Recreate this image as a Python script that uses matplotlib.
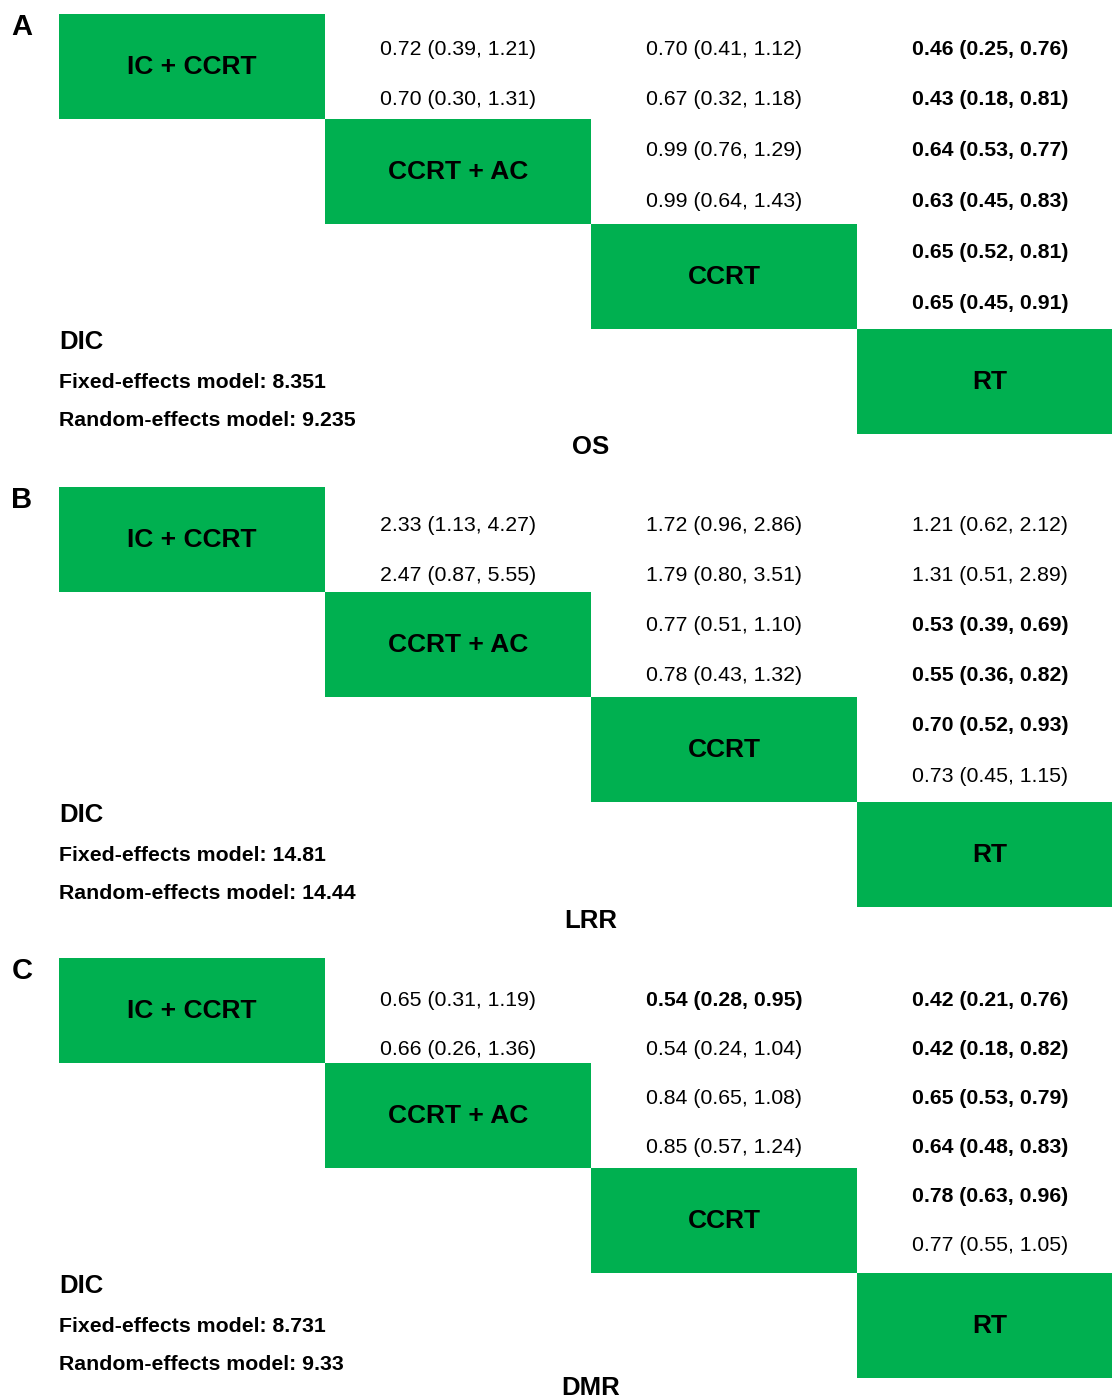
"""League table of pairwise hazard ratios (OS, LRR, DMR) for four treatment arms."""

import matplotlib.pyplot as plt
from matplotlib.patches import Rectangle

plt.rcParams["font.family"] = ["Liberation Sans", "DejaVu Sans"]

TREATMENTS = ["IC + CCRT", "CCRT + AC", "CCRT", "RT"]
OUTCOMES = ["OS", "LRR", "DMR"]
PANEL_LETTERS = ["A", "B", "C"]

# (row, col) pairs in the upper triangle, in reading order
PAIRS = [(0, 1), (0, 2), (0, 3), (1, 2), (1, 3), (2, 3)]

# each pair: fixed-effects line then random-effects line, as (estimate, low, high)
OS_FIXED = [(0.72, 0.39, 1.21), (0.70, 0.41, 1.12), (0.46, 0.25, 0.76),
            (0.99, 0.76, 1.29), (0.64, 0.53, 0.77), (0.65, 0.52, 0.81)]
OS_RANDOM = [(0.70, 0.30, 1.31), (0.67, 0.32, 1.18), (0.43, 0.18, 0.81),
             (0.99, 0.64, 1.43), (0.63, 0.45, 0.83), (0.65, 0.45, 0.91)]
OS_FIXED_BOLD = [False, False, True, False, True, True]
OS_RANDOM_BOLD = [False, False, True, False, True, True]

LRR_FIXED = [(2.33, 1.13, 4.27), (1.72, 0.96, 2.86), (1.21, 0.62, 2.12),
             (0.77, 0.51, 1.10), (0.53, 0.39, 0.69), (0.70, 0.52, 0.93)]
LRR_RANDOM = [(2.47, 0.87, 5.55), (1.79, 0.80, 3.51), (1.31, 0.51, 2.89),
              (0.78, 0.43, 1.32), (0.55, 0.36, 0.82), (0.73, 0.45, 1.15)]
LRR_FIXED_BOLD = [False, False, False, False, True, True]
LRR_RANDOM_BOLD = [False, False, False, False, True, False]

DMR_FIXED = [(0.65, 0.31, 1.19), (0.54, 0.28, 0.95), (0.42, 0.21, 0.76),
             (0.84, 0.65, 1.08), (0.65, 0.53, 0.79), (0.78, 0.63, 0.96)]
DMR_RANDOM = [(0.66, 0.26, 1.36), (0.54, 0.24, 1.04), (0.42, 0.18, 0.82),
              (0.85, 0.57, 1.24), (0.64, 0.48, 0.83), (0.77, 0.55, 1.05)]
DMR_FIXED_BOLD = [False, True, True, False, True, True]
DMR_RANDOM_BOLD = [False, False, True, False, True, False]

DIC_FIXED = ["8.351", "14.81", "8.731"]
DIC_RANDOM = ["9.235", "14.44", "9.33"]

FIXED = [OS_FIXED, LRR_FIXED, DMR_FIXED]
RANDOM = [OS_RANDOM, LRR_RANDOM, DMR_RANDOM]
FIXED_BOLD = [OS_FIXED_BOLD, LRR_FIXED_BOLD, DMR_FIXED_BOLD]
RANDOM_BOLD = [OS_RANDOM_BOLD, LRR_RANDOM_BOLD, DMR_RANDOM_BOLD]

GREEN = "#00B050"
W, H = 1112, 1399
DPI = 100

# layout in pixels
PANEL_TOP = [14, 487, 958]
ROW_START = [47, 523, 998]
ROW_STEP = [50.8, 50.2, 49.0]
TITLE_OFFSET = [431, 432, 428]
BOX_X0 = 59
BOX_W = 266
BOX_H = 105

FS_CELL = 15.3
FS_BOX = 19
FS_HEAD = 18.5
FS_LETTER = 21


def put(ax, x, y, text, fs, ha="center", weight="normal"):
    # y is the visual centre of capitals; convert to baseline
    base = y + 0.358 * fs * DPI / 72
    ax.text(x, base, text, fontsize=fs, ha=ha, va="baseline",
            fontweight=weight, color="black")


def fmt(cell):
    est, lo, hi = cell
    return f"{est:.2f} ({lo:.2f}, {hi:.2f})"


fig = plt.figure(figsize=(W / DPI, H / DPI), dpi=DPI)
ax = fig.add_axes([0, 0, 1, 1])
ax.set_xlim(0, W)
ax.set_ylim(H, 0)
ax.axis("off")

for p, outcome in enumerate(OUTCOMES):
    top = PANEL_TOP[p]
    put(ax, 22, top + 11, PANEL_LETTERS[p], FS_LETTER, weight="bold")

    for i, name in enumerate(TREATMENTS):
        x0 = BOX_X0 + i * BOX_W
        y0 = top + i * BOX_H
        ax.add_patch(Rectangle((x0, y0), BOX_W, BOX_H, facecolor=GREEN,
                               edgecolor="none", zorder=1))
        put(ax, x0 + BOX_W / 2, y0 + BOX_H / 2 - 2, name, FS_BOX, weight="bold")

    for k, (r, c) in enumerate(PAIRS):
        xc = BOX_X0 + c * BOX_W + BOX_W / 2
        lines = [(FIXED[p][k], FIXED_BOLD[p][k]), (RANDOM[p][k], RANDOM_BOLD[p][k])]
        for j, (cell, bold) in enumerate(lines):
            yc = ROW_START[p] + (2 * r + j) * ROW_STEP[p]
            put(ax, xc, yc, fmt(cell), FS_CELL,
                weight="bold" if bold else "normal")

    put(ax, BOX_X0, top + 326, "DIC", FS_HEAD, ha="left", weight="bold")
    put(ax, BOX_X0, top + 366, f"Fixed-effects model: {DIC_FIXED[p]}",
        FS_CELL, ha="left", weight="bold")
    put(ax, BOX_X0, top + 404, f"Random-effects model: {DIC_RANDOM[p]}",
        FS_CELL, ha="left", weight="bold")
    put(ax, 591, top + TITLE_OFFSET[p], outcome, FS_HEAD, weight="bold")

fig.savefig("out.png", dpi=DPI, facecolor="white")
